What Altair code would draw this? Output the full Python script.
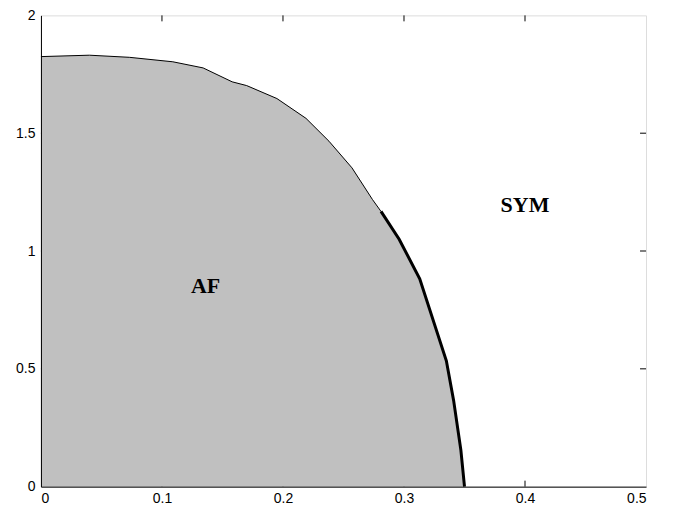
import altair as alt
import pandas as pd

# Phase boundary (AF / SYM)
bnd_x = [0.0, 0.040, 0.073, 0.109, 0.134, 0.158, 0.170, 0.195, 0.219, 0.238,
         0.257, 0.274, 0.281, 0.296, 0.313, 0.335, 0.341, 0.347, 0.350]
bnd_y = [1.825, 1.831, 1.822, 1.803, 1.777, 1.718, 1.702, 1.647, 1.563, 1.466,
         1.353, 1.218, 1.168, 1.050, 0.882, 0.534, 0.366, 0.155, 0.0]
thick_from = 12  # index where the bold part of the boundary starts

x_tick_values = [0, 0.1, 0.2, 0.3, 0.4, 0.5]
y_tick_values = [0, 0.5, 1, 1.5, 2]
x_inner_ticks = [0.1, 0.2, 0.3, 0.4]
y_inner_ticks = [0.5, 1, 1.5]

region_labels = ["AF", "SYM"]
region_x = [0.136, 0.400]
region_y = [0.853, 1.195]

W, H = 606, 472
TL = 6

bnd = pd.DataFrame({"x": bnd_x, "y": bnd_y})
thin = bnd.iloc[: thick_from + 1]
thick = bnd.iloc[thick_from:]
labels = pd.DataFrame({"x": region_x, "y": region_y, "t": region_labels})
xt = pd.DataFrame({"v": x_inner_ticks})
yt = pd.DataFrame({"v": y_inner_ticks})

xscale = alt.Scale(domain=[0, 0.5], nice=False, zero=False)
yscale = alt.Scale(domain=[0, 2], nice=False)

axis_common = dict(
    title=None, grid=False, ticks=False, domain=True, domainColor="black",
    domainWidth=1, labelFont="Liberation Sans", labelFontSize=14,
    labelColor="black", format="~g", zindex=1,
)
xaxis = alt.Axis(values=x_tick_values, labelPadding=5, **axis_common)
yaxis = alt.Axis(values=y_tick_values, labelPadding=6, **axis_common)

tick_bottom = alt.Chart(xt).mark_rule(color="black", strokeWidth=1).encode(
    x=alt.X("v:Q", scale=xscale, axis=xaxis), y=alt.value(H), y2=alt.value(H - TL))
tick_top = alt.Chart(xt).mark_rule(color="black", strokeWidth=1).encode(
    x=alt.X("v:Q", scale=xscale, axis=xaxis), y=alt.value(0), y2=alt.value(TL))
tick_left = alt.Chart(yt).mark_rule(color="black", strokeWidth=1).encode(
    y=alt.Y("v:Q", scale=yscale, axis=yaxis), x=alt.value(0), x2=alt.value(TL))
tick_right = alt.Chart(yt).mark_rule(color="black", strokeWidth=1).encode(
    y=alt.Y("v:Q", scale=yscale, axis=yaxis), x=alt.value(W), x2=alt.value(W - TL))

xq = alt.X("x:Q", scale=xscale, axis=xaxis)
yq = alt.Y("y:Q", scale=yscale, axis=yaxis)

area = alt.Chart(bnd).mark_area(color="#c0c0c0", opacity=1).encode(x=xq, y=yq)
line_thin = alt.Chart(thin).mark_line(color="black", strokeWidth=1).encode(x=xq, y=yq)
line_thick = alt.Chart(thick).mark_line(color="black", strokeWidth=3).encode(x=xq, y=yq)
text = alt.Chart(labels).mark_text(
    font="Liberation Serif", fontWeight="bold", fontSize=22, color="black",
    baseline="middle", align="center",
).encode(x=xq, y=yq, text="t:N")

chart = alt.layer(
    tick_bottom, tick_top, tick_left, tick_right, area, line_thin, line_thick, text
).properties(
    width=W, height=H,
    padding={"left": 33, "top": 7, "right": 20, "bottom": 20},
    autosize=alt.AutoSizeParams(type="none"),
).configure_view(stroke="black", strokeWidth=1).configure(background="white")

chart.save("out.html", embed_options={"renderer": "svg", "actions": False})
